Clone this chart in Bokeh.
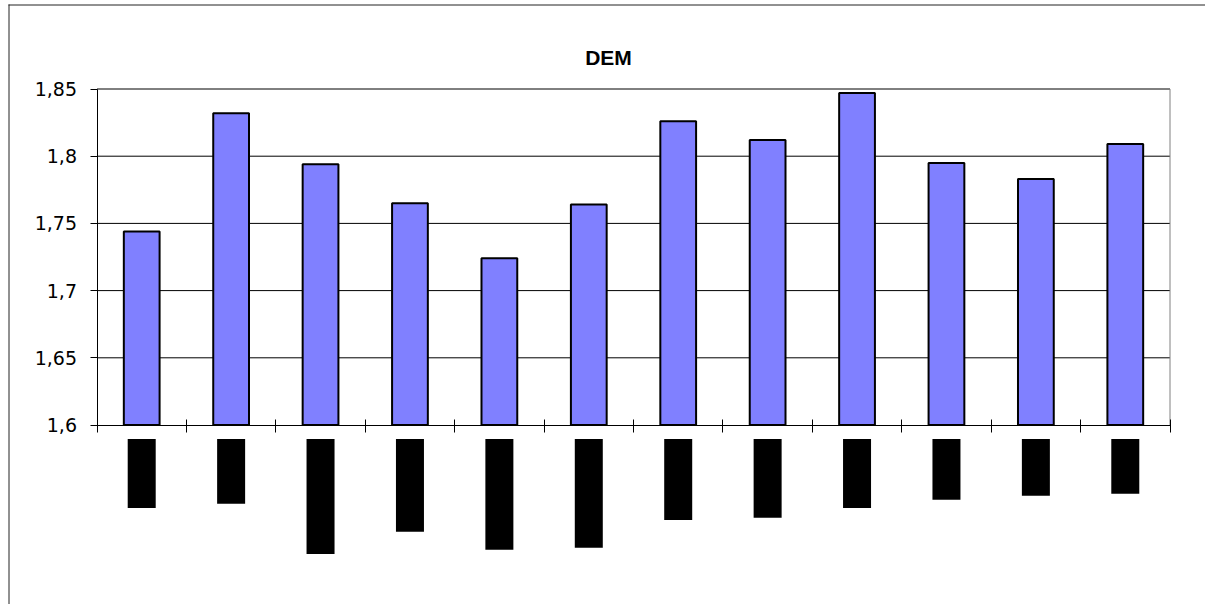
from bokeh.plotting import figure
from bokeh.models import Range1d, LinearAxis, FixedTicker
from bokeh.core.properties import value
from bokeh.embed import file_html
from bokeh.resources import INLINE

# ---------------- data ----------------
title_text = "DEM"
n_categories = 12
dem_values = [1.744, 1.832, 1.794, 1.765, 1.724, 1.764, 1.826, 1.812, 1.847, 1.795, 1.783, 1.809]
# lower end of the (unreadable, blacked-out) category labels, in axis units
label_box_bottom = [1.5382, 1.5414, 1.5041, 1.5205, 1.5071, 1.5086, 1.5294, 1.5309, 1.5382, 1.5443, 1.5473, 1.5488]
y_ticks = [1.6, 1.65, 1.7, 1.75, 1.8, 1.85]
y_tick_labels = ["1,6", "1,65", "1,7", "1,75", "1,8", "1,85"]

# ---------------- layout (pixels) ----------------
W, H = 1205, 604
PA_LEFT, PA_RIGHT = 96.5, 1169.5
PA_TOP, PA_BOTTOM = 88.5, 424.5
Y_MIN, Y_MAX = y_ticks[0], y_ticks[-1]
ppx = (PA_RIGHT - PA_LEFT) / n_categories
ppy = (PA_BOTTOM - PA_TOP) / (Y_MAX - Y_MIN)
X_START = -PA_LEFT / ppx
Y_END = Y_MAX + PA_TOP / ppy


def dx(px):
    return X_START + px / ppx


def dy(py):
    return Y_END - py / ppy


p = figure(width=W, height=H, output_backend="svg", toolbar_location=None,
           x_axis_type=None, y_axis_type=None, min_border=0,
           x_range=Range1d(X_START, dx(W)), y_range=Range1d(dy(H), Y_END))
p.outline_line_color = None
p.background_fill_color = "white"
p.border_fill_color = "white"
p.xgrid.visible = False
p.ygrid.visible = False

# outer chart border (top and left visible)
p.segment(x0=[dx(8.5), dx(8)], y0=[dy(4), dy(4.5)], x1=[dx(8.5), dx(W)], y1=[dy(H), dy(4.5)],
          line_color="#222222", line_width=1)

# gridlines
p.segment(x0=0, x1=n_categories, y0=y_ticks[1:], y1=y_ticks[1:], line_color="black", line_width=1)
# right border of plot area
p.segment(x0=[n_categories], x1=[n_categories], y0=[Y_MIN], y1=[Y_MAX], line_color="#808080", line_width=1)

centers = [i + 0.5 for i in range(n_categories)]
p.vbar(x=centers, top=dem_values, bottom=Y_MIN, width=0.4,
       fill_color="#8080FF", line_color="black", line_width=2)

# blacked-out category labels
box_half = 14 / ppx
box_top = Y_MIN - 14 / ppy
p.quad(left=[c - box_half for c in centers], right=[c + box_half for c in centers],
       top=box_top, bottom=label_box_bottom, fill_color="black", line_color=None)

# title
p.text(x=[dx(608)], y=[dy(57)], text=[title_text], text_font=value("Liberation Sans"),
       text_font_style="bold", text_font_size="21px", text_align="center",
       text_baseline="alphabetic", text_color="black")

# y axis
yaxis = LinearAxis(fixed_location=0, bounds=(Y_MIN, Y_MAX))
yaxis.ticker = FixedTicker(ticks=y_ticks)
yaxis.major_label_overrides = dict(zip(y_ticks, y_tick_labels))
yaxis.major_tick_in = 0
yaxis.major_tick_out = 7
yaxis.minor_tick_line_color = None
yaxis.axis_line_color = "black"
yaxis.major_tick_line_color = "black"
yaxis.major_label_standoff = 13
yaxis.major_label_text_font = "DejaVu Sans"
yaxis.major_label_text_font_size = "19px"
yaxis.major_label_text_color = "black"
p.add_layout(yaxis, "left")

# x axis
xaxis = LinearAxis(fixed_location=Y_MIN, bounds=(0, n_categories))
xaxis.ticker = FixedTicker(ticks=list(range(n_categories + 1)))
xaxis.major_label_overrides = {i: "" for i in range(n_categories + 1)}
xaxis.major_tick_in = 6
xaxis.major_tick_out = 7
xaxis.minor_tick_line_color = None
xaxis.axis_line_color = "black"
xaxis.major_tick_line_color = "black"
p.add_layout(xaxis, "below")

open("out.html", "w").write(file_html(p, INLINE))
